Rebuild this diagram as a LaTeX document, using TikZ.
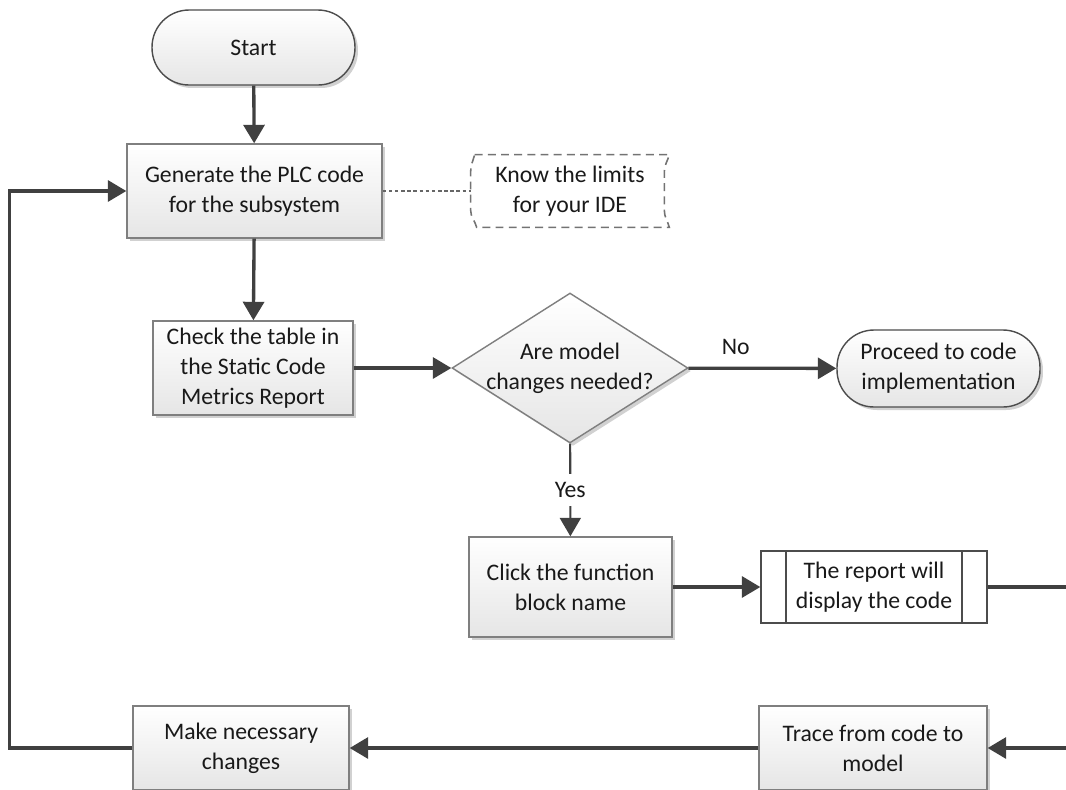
\documentclass[tikz,border=0pt]{standalone}
\usepackage{fontspec}
\setmainfont{Carlito}
\usetikzlibrary{shapes.geometric}
\usetikzlibrary{arrows.meta}
\usetikzlibrary{shadows}
\definecolor{ln}{HTML}{404040}
\definecolor{bd}{HTML}{7F7F7F}

\begin{document}
\begin{tikzpicture}[
		x=0.02cm, y=-0.02cm,
		font=\fontsize{13.5}{16.9}\selectfont,
		r/.style = {-{Triangle[length=0.37cm, width=0.42cm]}, draw=ln, line width=1.9pt},
		dl/.style = {draw=black!60, line width=0.6pt, dash pattern=on 2pt off 1.5pt},
		nb/.style = {draw=black!55, line width=0.9pt, dash pattern=on 4.5pt off 3pt},
		box/.style = {rectangle, draw=bd, line width=0.8pt, top color=white, bottom color=black!10,
			drop shadow={shadow xshift=0.06cm, shadow yshift=-0.06cm, opacity=0.18, fill=black},
			align=center, inner sep=2pt, text=black!90},
		term/.style = {box, draw=black!70, rounded corners=0.74cm},
		pp/.style = {rectangle, draw=black!70, fill=white, line width=0.8pt, align=center, text=black!90,
			path picture={\draw[black!70, line width=0.8pt]
				([xshift=0.5cm]path picture bounding box.north west) -- ([xshift=0.5cm]path picture bounding box.south west)
				([xshift=-0.5cm]path picture bounding box.north east) -- ([xshift=-0.5cm]path picture bounding box.south east);}},
		]
		
		\useasboundingbox (0,0) rectangle (1066,789);
		\clip (0,0) rectangle (1066,789);
		
		\node[term, minimum width=4.06cm, minimum height=1.5cm]	(start)	at (253.5, 47.5)	{Start};
		\node[box, minimum width=5.1cm, minimum height=1.88cm]	(gen)	at (254.5, 191)	{Generate the PLC code\\for the subsystem};
		\node[minimum width=3.96cm, minimum height=1.44cm, align=center, text=black!90]	(note)	at (570, 191)	{Know the limits\\for your IDE};
		\node[box, minimum width=4cm, minimum height=1.88cm]	(check)	at (253, 368)	{Check the table in\\the Static Code\\Metrics Report};
		\node[box, diamond, aspect=1.573, minimum width=4.72cm, minimum height=3cm, inner xsep=-0.26cm, inner ysep=0pt]	(dec)	at (570, 368)	{Are model\\changes needed?};
		\node[term, minimum width=4.06cm, minimum height=1.54cm]	(pro)	at (938.5, 368.5)	{Proceed to code\\implementation};
		\node[box, minimum width=4.06cm, minimum height=2cm]	(click)	at (570.5, 587)	{Click the function\\block name};
		\node[pp, minimum width=4.52cm, minimum height=1.44cm]	(rep)	at (874, 587)	{The report will\\display the code};
		\node[box, minimum width=4.32cm, minimum height=1.68cm]	(make)	at (241, 748)	{Make necessary\\changes};
		\node[box, minimum width=4.56cm, minimum height=1.68cm]	(trace)	at (873, 748)	{Trace from code to\\model};
		
		\draw[nb]	([xshift=0.08cm]note.north west) -- (note.north east)
			to[out=-105, in=90] ([xshift=-0.1cm, yshift=-0.34cm]note.north east) -- ([xshift=-0.1cm, yshift=0.34cm]note.south east)
			to[out=-90, in=105] (note.south east) -- ([xshift=0.12cm]note.south west)
			to[out=105, in=-90] ([yshift=0.34cm]note.south west) -- ([yshift=-0.34cm]note.north west)
			to[out=90, in=-105] ([xshift=0.08cm]note.north west);
		
		\draw[r]	(start)	--	(gen);
		\draw[dl]	(gen)	--	(note);
		\draw[r]	(gen)	--	(check);
		\draw[r]	(check)	--	(dec);
		\draw[r]	(dec)	--	node[pos=0.32, above=0.13cm, text=black!90] {No}	(pro);
		\draw[r, line width=1.2pt]	(dec)	--	node[fill=white, inner xsep=1pt, inner ysep=0.16cm, text=black!90] {Yes}	(click);
		\draw[r]	(click)	--	(rep);
		\draw[r]	(rep.east)	--	++(100,0)	|-	(trace.east);
		\draw[r]	(trace)	--	(make);
		\draw[r]	(make.west)	--	++(-123,0)	|-	(gen.west);
	\end{tikzpicture}
\end{document}
